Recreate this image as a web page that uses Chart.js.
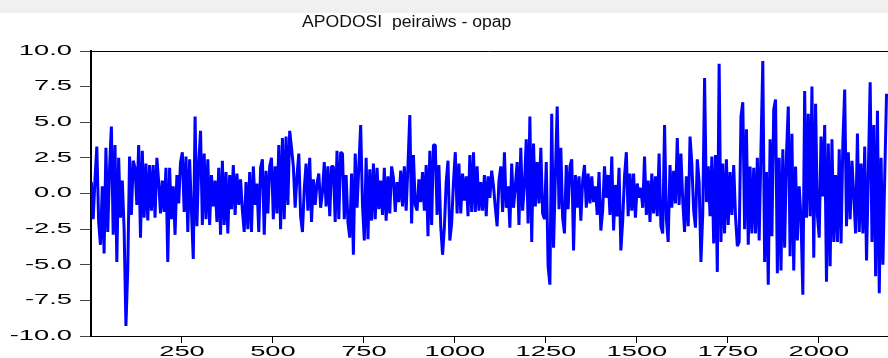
<!DOCTYPE html>
<html lang="en">
<head>
<meta charset="UTF-8">
<title>APODOSI peiraiws - opap</title>
<script src="https://cdn.jsdelivr.net/npm/chart.js"></script>
<style>
    * { margin: 0; padding: 0; }
    body { background: linear-gradient(#f0f0f0 0, #f0f0f0 13px, #fff 13px); }
    #chartContainer { width: 888px; height: 358px; }
</style>
</head>
<body>
<div id="chartContainer"><canvas id="retChart"></canvas></div>
<script>
const titleText = 'APODOSI  peiraiws - opap';

// one value kept for every 5th observation
const obsStep = 5;
const returns = [
     0.8, -1.8,  1.0,  3.3, -2.0, -3.6,  0.5, -4.2,  3.2, -2.7,
     1.8,  4.7, -2.9,  3.4, -4.8,  2.5, -1.7,  0.9, -2.5, -9.3,
    -5.3,  2.6, -1.5,  2.3,  1.8, -0.8,  3.4, -3.1,  3.0, -1.7,
     2.1, -1.9,  2.0, -1.2,  2.0, -1.7,  2.5,  0.8, -1.4,  0.9,
    -1.3,  1.8, -4.8,  1.8, -1.8,  0.5, -2.9,  1.3, -0.7,  2.2,
     2.9, -1.3,  2.6, -2.7,  2.4, -1.2,
    -4.6,  5.4, -2.3,  2.1,  4.4, -2.2,  2.8, -1.8,  2.4, -2.2,
     1.3, -0.9,  0.9, -2.0,  1.8, -2.9,  2.3, -2.2,  1.5, -2.8,
     1.3, -1.1,  2.0, -1.5,  1.4, -0.8,  1.0, -1.2, -2.7,  0.8,
    -2.5,  1.5, -2.7,  1.9, -0.8,  0.7, -2.7,  1.8,  2.4, -2.9,
     1.6, -1.4,  1.9,  2.5, -1.8,  1.9, -1.4,  3.4, -2.5,  3.9,
    -1.8,  4.0, -0.8,  4.4,  3.2,
     1.9, -1.0,  1.2,  2.8, -1.6, -2.7,  0.3,  2.1, -1.2,  2.5,
    -2.0,  1.0, -0.8,  0.7,  1.4, -1.0,  0.1,  2.2, -0.9,  1.9,
    -1.6,  1.9,  1.9, -2.0,  3.0, -1.8,  2.9,  2.8, -1.8,  1.3,
    -2.0, -3.1,  1.4, -4.3,  2.8, -1.0,  1.9,  4.8, -0.8, -3.3,
     2.5, -3.2,  1.7, -1.9,  2.1, -1.8,  1.8, -1.1,  0.9, -1.5,
     1.8, -1.9,  1.2, -1.4,  1.9,
     1.1, -1.3,  0.8, -0.6,  1.6, -0.9,  1.9, -1.2,  2.0,  5.5,
    -2.1,  2.7, -0.8, -1.2,  1.0, -0.6,  1.5, -1.2,  2.0, -3.0,
     3.0, -2.2,  3.4,  3.4, -1.5,  2.0, -2.3, -4.3, -2.4,  0.8,
     2.3, -3.3, -2.1,  0.8,  2.9, -1.4,  2.1, -1.4,  1.4, -0.5,
     1.2, -1.6,  2.7, -1.3,  2.9, -1.3,  1.9, -1.2,  0.8, -1.2,
     1.3, -1.6,  1.2, -0.3,  1.6,
     0.5, -1.0, -2.3,  0.9,  1.9, -1.3,  2.9, -1.0,  0.5, -2.4,
     2.1, -1.0,  0.5,  2.2, -2.2,  3.2, -1.2,  0.6,  3.8, -2.1,
     5.4, -3.4,  3.5, -0.9,  2.2, -0.7,  3.2, -1.4, -1.8,  2.2,
    -5.1, -6.4,  5.6, -3.8,  1.2,  6.1, -1.1,  3.2, -1.7, -2.8,
     2.0, -1.1,  1.9,  2.4, -4.0,  1.3, -1.0,  1.2, -1.9,  0.9,
     2.0, -1.0,  1.4, -0.7,  1.2,
    -0.6,  0.5, -1.5,  1.5, -2.6, -1.2,  1.9, -0.3,  1.3, -1.5,
     2.6, -2.6,  0.6, -1.6,  1.8, -4.0, -1.9,  1.2,  2.9, -1.6,
     1.4, -1.2,  1.4, -1.7,  0.7, -0.3,  0.4, -1.0,  2.6, -1.5,
     0.9, -2.0,  1.4, -1.4,  1.2, -1.6,  2.8, -2.3, -2.8,  4.8,
    -1.8, -3.4,  2.0, -1.0,  1.6, -0.7,  3.9, -0.8,  2.8, -0.5,
    -2.7,  1.2, -2.3,  4.0,  2.1,
    -1.2, -2.4,  2.4,  0.8, -4.8, -1.4,  8.1, -0.6,  1.9, -1.6,
     2.6, -3.5,  2.7, -5.5,  9.1, -3.4,  2.1, -2.8,  2.4, -2.2,
     1.5, -1.5,  2.0, -1.6, -3.7, -3.4,  5.4,  6.4, -2.5,  4.5,
    -3.6,  1.9, -2.8,  1.8, -2.8,  2.5, -3.3,  3.2,  9.3, -4.8,
     1.5, -6.4,  3.8, -3.0,  5.9,  6.6, -5.6,  2.5, -5.4,  3.1,
    -3.8,  2.7,  6.1, -4.4,  4.2,
    -5.4,  1.9, -3.3,  0.5, -1.8, -7.1,  7.2, -1.7,  5.6, -1.6,
     7.5, -4.5,  6.3, -1.5, -3.1,  4.0, -0.2,  4.8, -6.2,  3.5,
    -5.1,  3.8, -3.4,  1.3, -3.4,  3.1, -3.5,  3.6,  7.3, -2.3,
     2.9, -1.8,  2.3, -0.2, -2.8,  4.2, -2.7,  2.1, -2.8,  3.3,
    -4.7,  1.5,  7.8, -3.4,  4.8, -5.8,  5.8, -7.0,  2.5, -5.0,
     1.2,  7.0
];

const xTicks = [250, 500, 750, 1000, 1250, 1500, 1750, 2000];
const yTicks = [-10, -7.5, -5, -2.5, 0, 2.5, 5, 7.5, 10];

const obs = returns.map((v, i) => 1 + i * obsStep);
const points = returns.map((v, i) => ({ x: obs[i], y: v }));

const axisFont = { family: "'Liberation Sans', Arial, sans-serif", size: 14 };

// the source picture has its lettering widened; scale fillText about its anchor
const wideText = {
    id: 'wideText',
    beforeDraw(chart) {
        const ctx = chart.ctx;
        if (!ctx._plainFillText) {
            ctx._plainFillText = ctx.fillText;
            ctx.fillText = function (text, x, y) {
                const k = this.textStretch || 1;
                this.save();
                this.translate(x, y);
                this.scale(k, 1);
                this._plainFillText(text, 0, 0);
                this.restore();
            };
        }
        ctx.textStretch = 1.95;
    },
    afterDraw(chart) {
        const ctx = chart.ctx;
        const area = chart.chartArea;
        ctx.save();
        ctx.strokeStyle = '#000';
        ctx.lineWidth = 1;
        ctx.beginPath();
        ctx.moveTo(area.left, area.top + 0.5);
        ctx.lineTo(area.right, area.top + 0.5);
        ctx.stroke();

        ctx.textStretch = 1.1;
        ctx.fillStyle = '#111';
        ctx.font = "16px 'Liberation Sans', Arial, sans-serif";
        ctx.textAlign = 'left';
        ctx.textBaseline = 'alphabetic';
        ctx.fillText(titleText, 302, 27);
        ctx.restore();
        ctx.textStretch = 1;
    }
};

new Chart(document.getElementById('retChart'), {
    type: 'line',
    data: {
        datasets: [{
            data: points,
            borderColor: '#0000ff',
            borderWidth: 3,
            borderJoinStyle: 'bevel',
            pointRadius: 0,
            tension: 0,
            fill: false
        }]
    },
    options: {
        responsive: true,
        maintainAspectRatio: false,
        animation: false,
        events: [],
        layout: { padding: { top: 51, right: 0, bottom: 0, left: 0 } },
        plugins: {
            legend: { display: false },
            tooltip: { enabled: false }
        },
        scales: {
            x: {
                type: 'linear',
                min: 0,
                max: 2190,
                afterBuildTicks: s => { s.ticks = xTicks.map(v => ({ value: v })); },
                afterFit: s => { s.height = 22; },
                grid: { drawOnChartArea: false, tickLength: 7, color: '#000' },
                border: { color: '#000', width: 1 },
                ticks: { autoSkip: false, maxRotation: 0, padding: 1, color: '#000', font: axisFont, callback: v => String(v) }
            },
            y: {
                min: -10,
                max: 10,
                afterBuildTicks: s => { s.ticks = yTicks.map(v => ({ value: v })); },
                afterFit: s => { s.width = 91; },
                grid: { drawOnChartArea: false, tickLength: 11, color: '#444' },
                border: { color: '#000', width: 2 },
                ticks: { padding: 8, color: '#000', font: axisFont, callback: v => v.toFixed(1) }
            }
        }
    },
    plugins: [wideText]
});
</script>
</body>
</html>
